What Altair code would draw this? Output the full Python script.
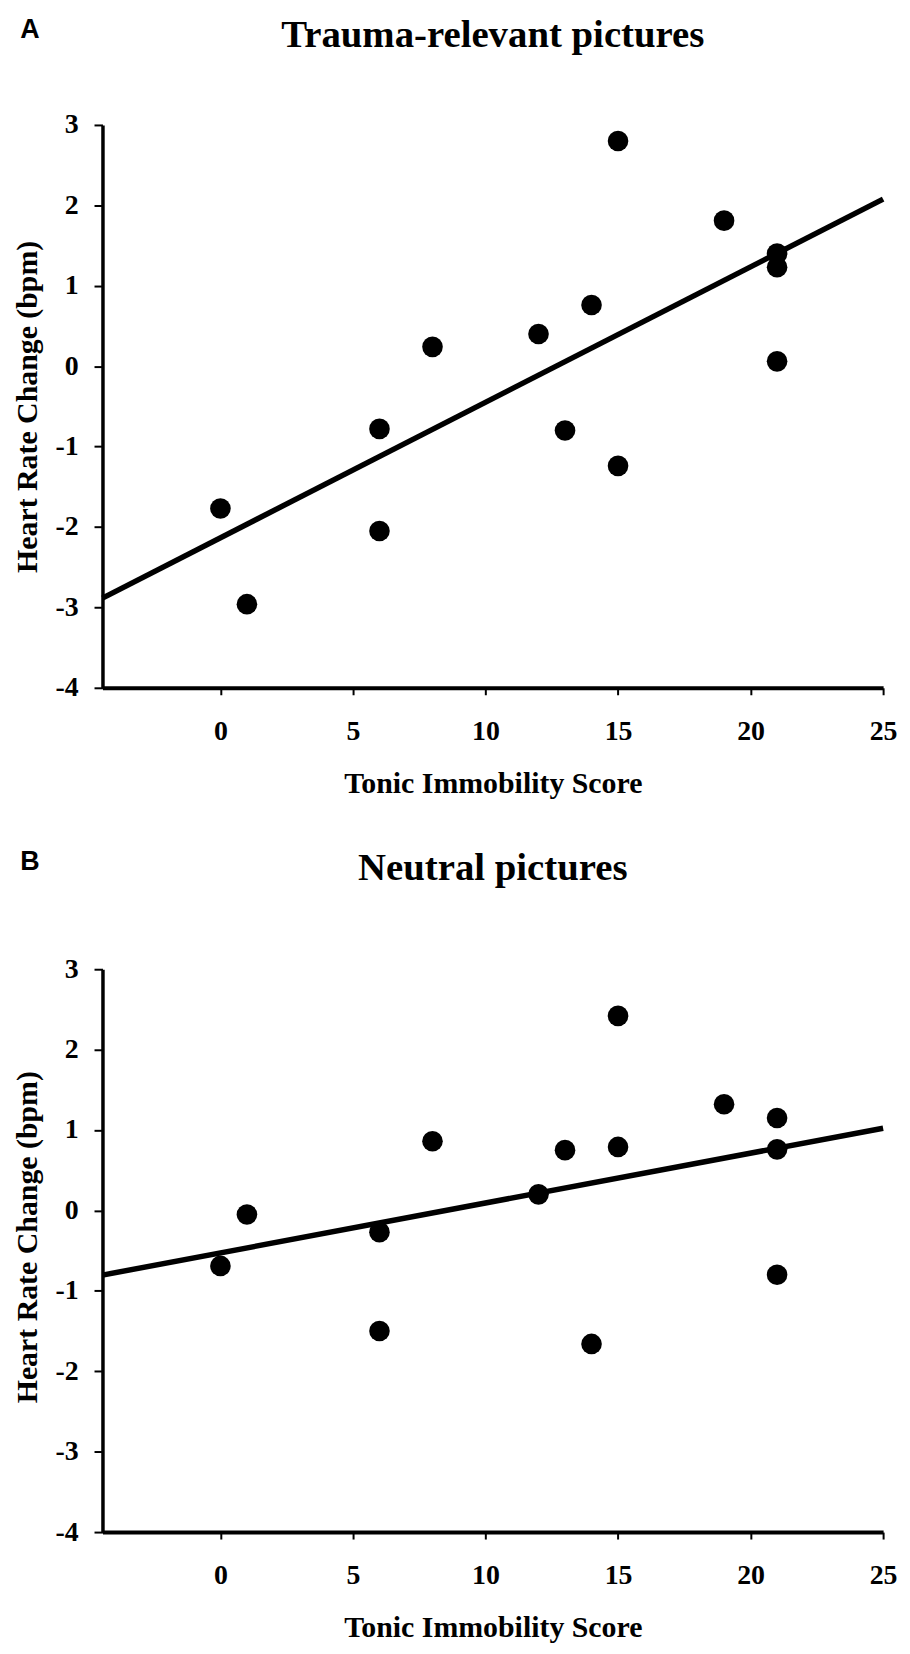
import altair as alt
import pandas as pd

# ---- data ----
scores = [0, 1, 6, 6, 8, 12, 13, 14, 15, 15, 19, 21, 21, 21]
trauma_hr = [-1.77, -2.96, -0.78, -2.05, 0.24, 0.40, -0.80, 0.76, 2.80, -1.24, 1.81, 1.40, 1.23, 0.06]
neutral_hr = [-0.69, -0.05, -0.27, -1.50, 0.86, 0.20, 0.75, -1.66, 2.42, 0.79, 1.32, 1.15, 0.76, -0.80]
x_ticks = [0, 5, 10, 15, 20, 25]
y_ticks = [-4, -3, -2, -1, 0, 1, 2, 3]
panel_titles = ["Trauma-relevant pictures", "Neutral pictures"]
panel_letters = ["A", "B"]
x_title = "Tonic Immobility Score"
y_title = "Heart Rate Change (bpm)"

X_DOMAIN = [-4.45, 25]
Y_DOMAIN = [-4, 3]
W, H = 785, 566
SERIF = "Liberation Serif"
SANS = "Liberation Sans"


def panel(values, title, letter, title_y, letter_y, ytitle_shift):
    df = pd.DataFrame({"score": scores, "hr": values})
    x_enc = alt.X(
        "score:Q",
        scale=alt.Scale(domain=X_DOMAIN, nice=False, zero=False),
        axis=alt.Axis(
            values=x_ticks, title=x_title, grid=False,
            labelExpr="datum.value + ''",
            domainColor="black", domainWidth=4,
            tickColor="black", tickWidth=2, tickSize=7,
            labelFont=SERIF, labelFontWeight="bold", labelFontSize=28,
            labelColor="black", labelBaseline="alphabetic", labelPadding=45,
            labelFlush=False, labelOverlap=False,
            titleFont=SERIF, titleFontWeight="bold", titleFontSize=30,
            titleColor="black", titleX=W / 2, titleY=105.5,
            titleBaseline="alphabetic", titleAlign="center",
        ),
    )
    y_enc = alt.Y(
        "hr:Q",
        scale=alt.Scale(domain=Y_DOMAIN, nice=False, zero=False),
        axis=alt.Axis(
            values=y_ticks, title=y_title, grid=False,
            labelExpr="datum.value + ''",
            domainColor="black", domainWidth=3.5,
            tickColor="black", tickWidth=2, tickSize=8.5,
            labelFont=SERIF, labelFontWeight="bold", labelFontSize=28,
            labelColor="black", labelPadding=16, labelAlign="right",
            labelBaseline="middle", labelOverlap=False,
            titleFont=SERIF, titleFontWeight="bold", titleFontSize=30,
            titleColor="black", titleX=-66, titleY=H / 2 + ytitle_shift,
            titleAngle=270, titleBaseline="alphabetic", titleAlign="center",
        ),
    )
    base = alt.Chart(df)
    line = base.transform_regression(
        "score", "hr", extent=X_DOMAIN
    ).mark_line(color="black", strokeWidth=5.5).encode(x=x_enc, y=y_enc)
    points = base.mark_circle(size=430, color="black", opacity=1).encode(x=x_enc, y=y_enc)
    ttl = alt.Chart(pd.DataFrame({"t": [title]})).mark_text(
        font=SERIF, fontWeight="bold", fontSize=39, align="center",
        baseline="alphabetic", color="black",
    ).encode(text="t:N", x=alt.value(W / 2), y=alt.value(title_y))
    let = alt.Chart(pd.DataFrame({"t": [letter]})).mark_text(
        font=SANS, fontWeight="bold", fontSize=27, align="center",
        baseline="alphabetic", color="black",
    ).encode(text="t:N", x=alt.value(-73), y=alt.value(letter_y))
    return alt.layer(line, points, ttl, let).properties(width=W, height=H)


chart = alt.vconcat(
    panel(trauma_hr, panel_titles[0], panel_letters[0], -78, -87, 0),
    panel(neutral_hr, panel_titles[1], panel_letters[1], -90, -100, -14),
    spacing=49,
).properties(
    padding={"top": 4, "left": 4, "right": 5, "bottom": 5},
    background="white",
).configure_view(strokeWidth=0)

chart.save("out.html", embed_options={"renderer": "svg", "actions": False})
